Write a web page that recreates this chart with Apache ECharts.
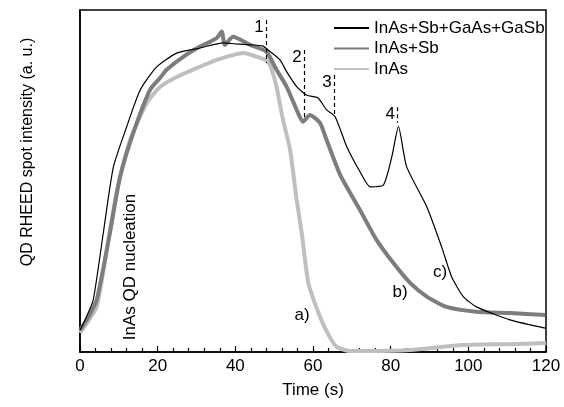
<!DOCTYPE html>
<html>
<head>
<meta charset="utf-8">
<script src="https://cdn.jsdelivr.net/npm/echarts@6/dist/echarts.min.js"></script>
<style>
  html, body { margin: 0; padding: 0; background: #fff; }
  #chart { width: 564px; height: 407px; }
</style>
</head>
<body>
<div id="chart"></div>
<script>
// InAs+Sb+GaAs+GaSb (black)
var timeC = [0, 1.5, 3.4, 6, 8.6, 12, 15.5, 19.7, 24.9, 30.9, 36.9, 40, 44, 47, 49, 51.5, 53.2, 55.8, 58.4, 61.3, 63.5, 65.7, 68.7, 72.1, 74.7, 78.1, 80.3, 82, 84.1, 89.3, 93.1, 95.7, 98.7, 102.1, 110.7, 119.8]
var valC = [6.4, 9.9, 15.2, 34.8, 54.1, 65.8, 76.6, 83.3, 87.4, 88.9, 90.4, 90.1, 89.8, 89.5, 87.8, 85.4, 82.0, 77.6, 75.1, 74.3, 70.8, 68.8, 60.0, 52.7, 48.3, 48.8, 57.1, 65.9, 54.2, 42.5, 30.8, 22.0, 16.2, 13.2, 9.4, 7.0]
// InAs+Sb (dark gray)
var timeB = [0, 2, 4.3, 7.7, 10.3, 13.7, 18, 20.6, 22.3, 26.6, 30.9, 35.2, 36.5, 37.3, 39.4, 43.8, 48, 50.6, 53.2, 55.8, 57.4, 59.2, 61.8, 63.5, 67, 72.1, 76.4, 80.7, 85, 89.3, 94.4, 102, 110.7, 119.8]
var valB = [6.4, 9.9, 15.2, 34.8, 51.2, 64.0, 76.6, 80.1, 82.5, 86.3, 89.3, 91.8, 93.7, 89.8, 92.2, 89.8, 87.8, 82.5, 77.6, 70.8, 67.3, 69.3, 67.0, 62.0, 51.8, 41.5, 32.7, 26.0, 20.2, 16.2, 13.2, 11.8, 11.4, 10.8]
// InAs (light gray)
var timeA = [0, 2, 4.3, 6.9, 9.4, 12.9, 17.2, 20.6, 24.9, 30.9, 35.2, 39.4, 42, 46.4, 48.5, 49.4, 50.6, 52.3, 54.1, 55.8, 57.1, 58.8, 61.8, 64, 66.1, 69.5, 75, 85, 97.9, 110, 120]
var valA = [5.6, 8.8, 13.2, 29.8, 46.5, 62.0, 72.8, 77.5, 80.4, 83.4, 85.4, 86.8, 87.4, 86.0, 84.8, 82.5, 77.6, 67.8, 59.1, 44.4, 34.8, 20.2, 10.3, 5.0, 1.5, 0.3, 0.3, 0.6, 2.0, 2.3, 2.6]

var seriesNames = ['InAs+Sb+GaAs+GaSb', 'InAs+Sb', 'InAs']

// dashed markers 1-4
var markTime = [47.9, 57.7, 65.4, 81.7]
var markTop = [97.1, 88.3, 81.0, 71.6]
var markBottom = [84.5, 67.8, 68.7, 67.0]
var markLabels = ['1', '2', '3', '4']

function pairs(t, v) {
  return t.map(function (x, i) { return [x, v[i]] })
}

var chart = echarts.init(document.getElementById('chart'))
var font = 'Liberation Sans, Arial, sans-serif'

var markLineData = markTime.map(function (t, i) {
  return [{ coord: [t, markTop[i]] }, { coord: [t, markBottom[i]] }]
})
var markPointData = markTime.map(function (t, i) {
  return { coord: [t, markTop[i]], value: markLabels[i] }
})

var option = {
  backgroundColor: '#fff',
  animation: false,
  grid: {
    left: 80, right: 18, top: 10, bottom: 55,
    show: true, borderColor: '#000', borderWidth: 1.5
  },
  legend: {
    data: seriesNames,
    orient: 'vertical',
    left: 328, top: 13,
    itemWidth: 35, itemHeight: 14, itemGap: 0.5,
    itemStyle: { opacity: 0 },
    textStyle: { fontFamily: font, fontSize: 17, color: '#000', lineHeight: 20 }
  },
  xAxis: {
    type: 'value', min: 0, max: 120, interval: 20,
    name: 'Time (s)', nameLocation: 'middle', nameGap: 30,
    nameTextStyle: { fontFamily: font, fontSize: 17, color: '#000' },
    axisLine: { lineStyle: { color: '#000', width: 1.5 } },
    axisTick: { inside: true, length: 6, lineStyle: { color: '#000', width: 1.2 } },
    minorTick: { show: true, splitNumber: 5, length: 4, lineStyle: { color: '#000', width: 1.2 } },
    axisLabel: { fontFamily: font, fontSize: 17, color: '#000', margin: 6 },
    splitLine: { show: false }
  },
  yAxis: {
    type: 'value', min: 0, max: 100,
    axisLine: { show: true, lineStyle: { color: '#000', width: 1.5 } },
    axisTick: { show: false },
    axisLabel: { show: false },
    splitLine: { show: false }
  },
  series: [
    {
      name: seriesNames[0], type: 'line', symbol: 'none', z: 5, smooth: 0.2,
      data: pairs(timeC, valC),
      lineStyle: { color: '#000', width: 1.2 },
      itemStyle: { color: '#000' },
      markLine: {
        silent: true, symbol: 'none',
        lineStyle: { color: '#000', type: [4, 3], width: 1.2 },
        label: { show: false },
        data: markLineData
      },
      markPoint: {
        symbol: 'circle', symbolSize: 0,
        label: {
          show: true, formatter: '{c}', position: 'inside', offset: [-7, 7],
          fontFamily: font, fontSize: 17, color: '#000'
        },
        data: markPointData
      }
    },
    {
      name: seriesNames[1], type: 'line', symbol: 'none', z: 4, smooth: 0.2,
      data: pairs(timeB, valB),
      lineStyle: { color: '#7d7d7d', width: 4 },
      itemStyle: { color: '#7d7d7d' }
    },
    {
      name: seriesNames[2], type: 'line', symbol: 'none', z: 3, smooth: 0.2,
      data: pairs(timeA, valA),
      lineStyle: { color: '#bfbfbf', width: 4 },
      itemStyle: { color: '#bfbfbf' }
    }
  ],
  graphic: [
    {
      type: 'text', x: 28, y: 152, rotation: Math.PI / 2,
      style: { text: 'QD RHEED spot intensity (a. u.)', font: '16px ' + font, fill: '#000', align: 'center', verticalAlign: 'middle' }
    },
    {
      type: 'text', x: 130, y: 267, rotation: Math.PI / 2,
      style: { text: 'InAs QD nucleation', font: '17px ' + font, fill: '#000', align: 'center', verticalAlign: 'middle' }
    },
    { type: 'text', x: 302, y: 315, style: { text: 'a)', font: '17px ' + font, fill: '#000', align: 'center', verticalAlign: 'middle' } },
    { type: 'text', x: 400, y: 292, style: { text: 'b)', font: '17px ' + font, fill: '#000', align: 'center', verticalAlign: 'middle' } },
    { type: 'text', x: 440, y: 272, style: { text: 'c)', font: '17px ' + font, fill: '#000', align: 'center', verticalAlign: 'middle' } }
  ]
}
chart.setOption(option)
</script>
</body>
</html>
